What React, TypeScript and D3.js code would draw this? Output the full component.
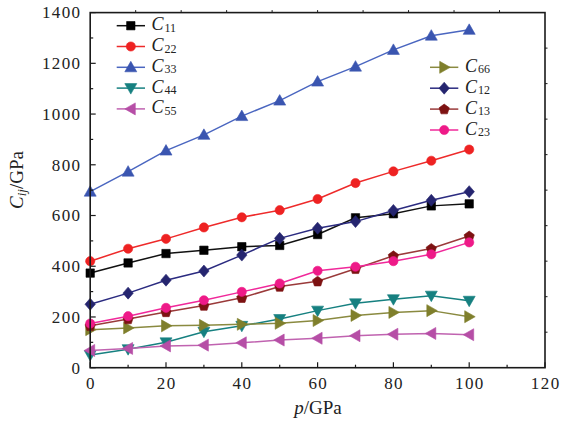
import React from "react";
import * as d3 from "d3";

const pressure = [0, 10, 20, 30, 40, 50, 60, 70, 80, 90, 100];
const c11 = [373, 413, 450, 463, 477, 482, 525, 591, 607, 638, 646];
const c22 = [420, 469, 508, 553, 593, 621, 665, 728, 774, 816, 860];
const c33 = [694, 773, 856, 918, 992, 1053, 1128, 1187, 1253, 1309, 1332];
const c44 = [50, 73, 100, 142, 165, 192, 225, 254, 270, 284, 264];
const c55 = [68, 76, 86, 89, 98, 109, 116, 126, 132, 135, 130];
const c66 = [150, 157, 165, 167, 171, 175, 186, 206, 218, 225, 201];
const c12 = [250, 294, 345, 381, 444, 510, 550, 576, 620, 660, 694];
const c13 = [165, 192, 220, 245, 276, 320, 341, 390, 441, 470, 519];
const c23 = [174, 203, 236, 266, 299, 332, 382, 398, 420, 447, 494];

const xTicks = [0, 20, 40, 60, 80, 100, 120];
const yTicks = [0, 200, 400, 600, 800, 1000, 1200, 1400];

type Series = { name: string; sub: string; values: number[]; color: string; line: string; marker: string };

const seriesList: Series[] = [
  { name: "C", sub: "11", values: c11, color: "#000000", line: "#111111", marker: "square" },
  { name: "C", sub: "22", values: c22, color: "#ee2222", line: "#ee2a2a", marker: "circle" },
  { name: "C", sub: "33", values: c33, color: "#3a55b0", line: "#4a66c0", marker: "up" },
  { name: "C", sub: "44", values: c44, color: "#168080", line: "#168080", marker: "down" },
  { name: "C", sub: "55", values: c55, color: "#b64ea6", line: "#c063b0", marker: "left" },
  { name: "C", sub: "66", values: c66, color: "#7f7f2c", line: "#8a8a40", marker: "right" },
  { name: "C", sub: "12", values: c12, color: "#25256f", line: "#2b2b80", marker: "diamond" },
  { name: "C", sub: "13", values: c13, color: "#7d1212", line: "#9a3a3a", marker: "pentagon" },
  { name: "C", sub: "23", values: c23, color: "#ee1a88", line: "#f0289a", marker: "circle" },
];

function poly(pts: [number, number][]) {
  return "M" + pts.map((p) => p[0].toFixed(2) + "," + p[1].toFixed(2)).join("L") + "Z";
}

function markerPath(kind: string): string {
  const r = 6;
  switch (kind) {
    case "square":
      return poly([[-4.2, -4.2], [4.2, -4.2], [4.2, 4.2], [-4.2, 4.2]]);
    case "circle":
      return d3.symbol(d3.symbolCircle, Math.PI * 4.6 * 4.6)() as string;
    case "up":
      return poly([[0, -r], [r, r * 0.75], [-r, r * 0.75]]);
    case "down":
      return poly([[0, r], [r, -r * 0.75], [-r, -r * 0.75]]);
    case "left":
      return poly([[-r, 0], [r * 0.75, -r], [r * 0.75, r]]);
    case "right":
      return poly([[r, 0], [-r * 0.75, -r], [-r * 0.75, r]]);
    case "diamond":
      return poly([[0, -6], [5.2, 0], [0, 6], [-5.2, 0]]);
    case "pentagon": {
      const pts: [number, number][] = [];
      for (let i = 0; i < 5; i++) {
        const a = -Math.PI / 2 + (i * 2 * Math.PI) / 5;
        pts.push([5.4 * Math.cos(a), 5.4 * Math.sin(a) + 0.4]);
      }
      return poly(pts);
    }
  }
  return "";
}

export default function App() {
  const width = 566;
  const height = 421;
  const left = 90.2;
  const right = 545;
  const top = 12.6;
  const bottom = 367.7;

  const x = d3.scaleLinear().domain([0, 120]).range([left, right]);
  const y = d3.scaleLinear().domain([0, 1400]).range([bottom, top]);

  const lineGen = d3
    .line<number>()
    .x((_, i) => x(pressure[i]))
    .y((d) => y(d));

  const xMinor = d3.range(0, 121, 10);
  const yMinor = d3.range(0, 1401, 100);
  const topTicks = d3.range(0, 11).map((i) => left + ((right - left) * i) / 10);
  const rightTicks = d3.range(0, 11).map((i) => bottom - ((bottom - top) * i) / 10);

  const font = "'Liberation Serif', 'Times New Roman', serif";
  const axisColor = "#1a1a1a";

  const legendLeft = seriesList.slice(0, 5);
  const legendRight = seriesList.slice(5);

  return (
    <svg
      width={width}
      height={height}
      style={{ position: "absolute", left: 0, top: 0, background: "#fff" }}
      fontFamily={font}
    >
      <rect x={0} y={0} width={width} height={height} fill="#fff" />

      {/* series */}
      {seriesList.map((s) => (
        <g key={s.sub}>
          <path d={lineGen(s.values) || ""} fill="none" stroke={s.line} strokeWidth={1.5} />
          {s.values.map((v, i) => (
            <path
              key={i}
              d={markerPath(s.marker)}
              transform={`translate(${x(pressure[i])},${y(v)})`}
              fill={s.color}
              stroke={s.color}
              strokeWidth={0.6}
            />
          ))}
        </g>
      ))}

      {/* frame */}
      <rect x={left} y={top} width={right - left} height={bottom - top} fill="none" stroke={axisColor} strokeWidth={1.6} />

      {/* bottom ticks */}
      {xMinor.map((t) => (
        <line key={"xt" + t} x1={x(t)} x2={x(t)} y1={bottom} y2={bottom - (t % 20 === 0 ? 5.5 : 3)} stroke={axisColor} strokeWidth={1.2} />
      ))}
      {/* left ticks */}
      {yMinor.map((t) => (
        <line key={"yt" + t} x1={left} x2={left + (t % 200 === 0 ? 5.5 : 3)} y1={y(t)} y2={y(t)} stroke={axisColor} strokeWidth={1.2} />
      ))}
      {/* top ticks */}
      {topTicks.slice(1, 10).map((t, i) => (
        <line key={"tt" + i} x1={t} x2={t} y1={top} y2={top - 2.5} stroke={axisColor} strokeWidth={1} />
      ))}
      {/* right ticks */}
      {rightTicks.slice(1, 10).map((t, i) => (
        <line key={"rt" + i} x1={right} x2={right + 2.5} y1={t} y2={t} stroke={axisColor} strokeWidth={1} />
      ))}

      {/* tick labels */}
      {xTicks.map((t) => (
        <text key={"xl" + t} x={x(t) + 0.7} y={388.5} textAnchor="middle" fontSize={17} letterSpacing={1.4} fill="#222">
          {t}
        </text>
      ))}
      {yTicks.map((t) => (
        <text key={"yl" + t} x={81.5} y={y(t) + 5.8} textAnchor="end" fontSize={17} letterSpacing={1.4} fill="#222">
          {t}
        </text>
      ))}

      {/* axis titles */}
      <text x={318} y={414} textAnchor="middle" fontSize={19} fill="#222">
        <tspan fontStyle="italic">p</tspan>
        <tspan>/GPa</tspan>
      </text>
      <g transform="translate(23,180) rotate(-90)">
        <text x={0} y={0} textAnchor="middle" fontSize={19} fill="#222">
          <tspan fontStyle="italic">C</tspan>
          <tspan fontStyle="italic" fontSize={13} dy={3}>ij</tspan>
          <tspan dy={-3}>/GPa</tspan>
        </text>
      </g>

      {/* legends */}
      {legendLeft.map((s, i) => {
        const ly = 25.7 + i * 20.8;
        return (
          <g key={"ll" + s.sub}>
            <line x1={116.7} x2={145} y1={ly} y2={ly} stroke={s.line} strokeWidth={1.5} />
            <path d={markerPath(s.marker)} transform={`translate(130.8,${ly})`} fill={s.color} stroke={s.color} strokeWidth={0.6} />
            <text x={151.5} y={ly + 4.5} fontSize={18} fill="#222">
              <tspan fontStyle="italic">{s.name}</tspan>
              <tspan fontSize={12} dy={1.5} dx={1}>{s.sub}</tspan>
            </text>
          </g>
        );
      })}
      {legendRight.map((s, i) => {
        const ly = 67.3 + i * 20.9;
        return (
          <g key={"lr" + s.sub}>
            <line x1={430} x2={458.3} y1={ly} y2={ly} stroke={s.line} strokeWidth={1.5} />
            <path d={markerPath(s.marker)} transform={`translate(444.2,${ly})`} fill={s.color} stroke={s.color} strokeWidth={0.6} />
            <text x={465} y={ly + 4.5} fontSize={18} fill="#222">
              <tspan fontStyle="italic">{s.name}</tspan>
              <tspan fontSize={12} dy={1.5} dx={1}>{s.sub}</tspan>
            </text>
          </g>
        );
      })}
    </svg>
  );
}
